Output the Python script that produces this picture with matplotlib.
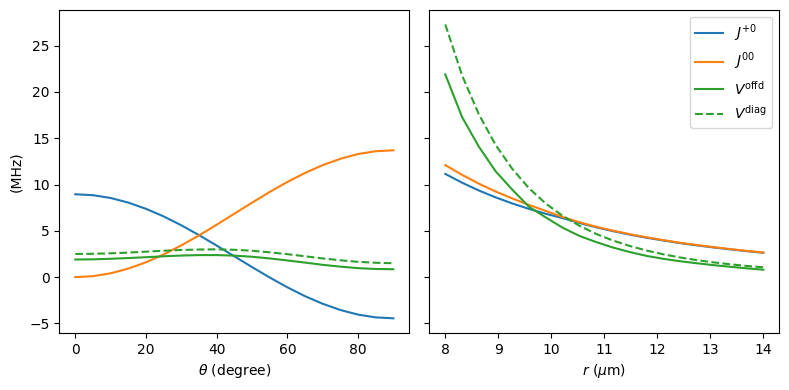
import numpy as np
import matplotlib
matplotlib.use("Agg")
import matplotlib.pyplot as plt

# angle scan (degrees)
theta = [0, 5, 10, 15, 20, 25, 30, 35, 40, 45, 50, 55, 60, 65, 70, 75, 80, 85, 90]
jp0_theta = [8.95, 8.85, 8.55, 8.05, 7.38, 6.56, 5.6, 4.54, 3.41, 2.25, 1.09, -0.04,
             -1.1, -2.06, -2.88, -3.55, -4.05, -4.35, -4.45]
j00_theta = [0.0, 0.1, 0.41, 0.92, 1.6, 2.45, 3.43, 4.5, 5.66, 6.85, 8.04, 9.2,
             10.28, 11.25, 12.1, 12.78, 13.3, 13.6, 13.7]
voffd_theta = [1.9, 1.92, 1.98, 2.06, 2.15, 2.25, 2.33, 2.38, 2.38, 2.32, 2.2, 2.02,
               1.8, 1.57, 1.33, 1.13, 0.97, 0.88, 0.85]
vdiag_theta = [2.5, 2.52, 2.57, 2.65, 2.75, 2.85, 2.93, 2.98, 3.0, 2.95, 2.85, 2.68,
               2.48, 2.25, 2.02, 1.82, 1.65, 1.55, 1.5]

# distance scan (um)
r = [8.0, 8.316, 8.632, 8.947, 9.263, 9.579, 9.895, 10.21, 10.53, 10.84,
     11.16, 11.47, 11.79, 12.11, 12.42, 12.74, 13.05, 13.37, 13.68, 14.0]
jp0_r = [11.15, 10.2, 9.36, 8.62, 7.96, 7.37, 6.84, 6.38, 5.85, 5.39,
         4.97, 4.6, 4.26, 3.96, 3.68, 3.43, 3.21, 3.0, 2.81, 2.63]
j00_r = [12.1, 11.05, 10.1, 9.25, 8.5, 7.8, 7.15, 6.5, 5.93, 5.45,
         5.02, 4.65, 4.31, 4.0, 3.72, 3.47, 3.25, 3.03, 2.84, 2.66]
voffd_r = [21.9, 17.3, 14.1, 11.45, 9.45, 7.6, 6.45, 5.35, 4.45, 3.8,
           3.2, 2.72, 2.3, 1.98, 1.72, 1.5, 1.3, 1.12, 0.95, 0.8]
vdiag_r = [27.3, 21.8, 17.6, 14.3, 11.7, 9.6, 7.95, 6.63, 5.55, 4.68,
           3.96, 3.38, 2.88, 2.47, 2.13, 1.84, 1.6, 1.39, 1.21, 1.06]

labels = [r"$J^{+0}$", r"$J^{00}$", r"$V^\mathrm{offd}$", r"$V^\mathrm{diag}$"]

fig, (ax1, ax2) = plt.subplots(1, 2, figsize=(7.89, 3.9), dpi=100, sharey=True)

ax1.plot(theta, jp0_theta, color="C0")
ax1.plot(theta, j00_theta, color="C1")
ax1.plot(theta, voffd_theta, color="C2")
ax1.plot(theta, vdiag_theta, color="C2", ls="--")
ax1.set_xlabel(r"$\theta$ (degree)")
ax1.set_ylabel("(MHz)")

ax2.plot(r, jp0_r, color="C0", label=labels[0])
ax2.plot(r, j00_r, color="C1", label=labels[1])
ax2.plot(r, voffd_r, color="C2", label=labels[2])
ax2.plot(r, vdiag_r, color="C2", ls="--", label=labels[3])
ax2.set_xlabel(r"$r$ ($\mu$m)")
ax2.legend(loc="upper right")

fig.tight_layout(pad=0.7, w_pad=1.1)
fig.savefig("out.png")
